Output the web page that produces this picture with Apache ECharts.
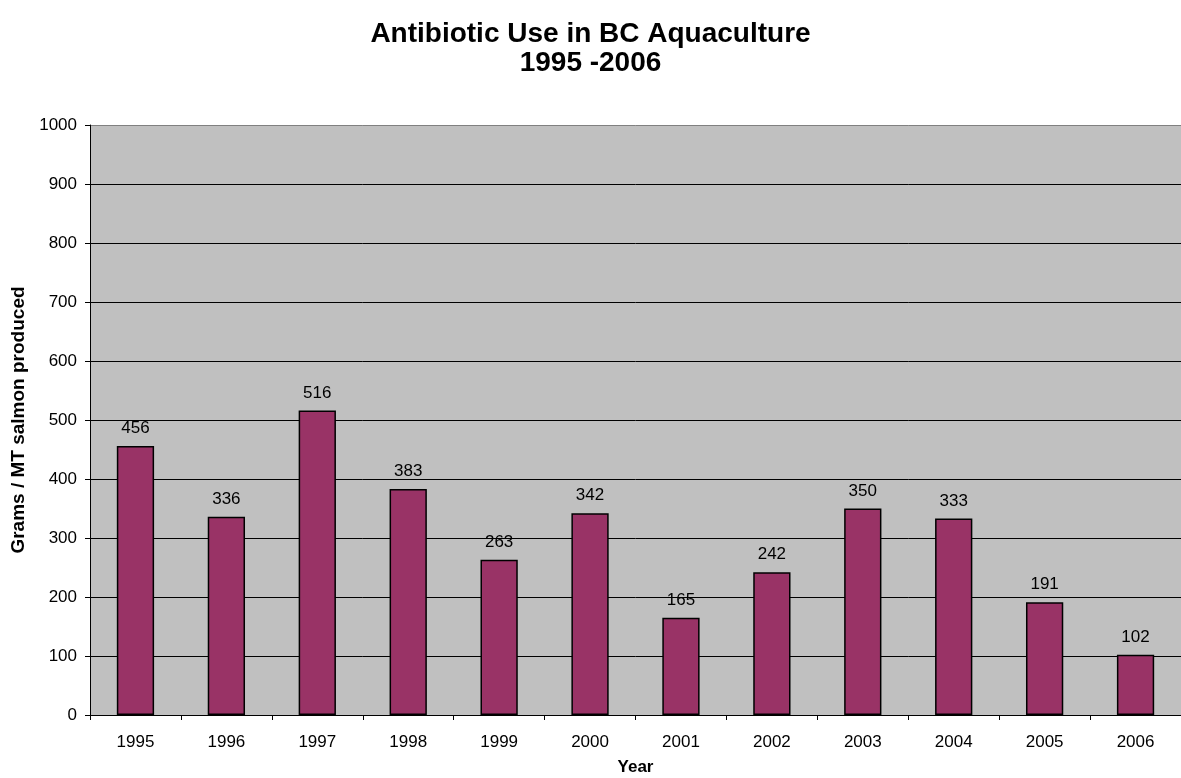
<!DOCTYPE html>
<html><head><meta charset="utf-8">
<script src="https://cdn.jsdelivr.net/npm/echarts@6/dist/echarts.min.js"></script>
<style>html,body{margin:0;padding:0;background:#fff}#c{width:1181px;height:778px}</style>
</head><body><div id="c"></div>
<script>
const years = ['1995','1996','1997','1998','1999','2000','2001','2002','2003','2004','2005','2006'];
const grams = [456,336,516,383,263,342,165,242,350,333,191,102];
const yTicks = [0,100,200,300,400,500,600,700,800,900,1000];

const font = 'Liberation Sans, Arial, sans-serif';
const chart = echarts.init(document.getElementById('c'), null, {renderer:'canvas'});
const splitColors = yTicks.map((t,i)=> i===yTicks.length-1 ? '#808080' : '#000000');
chart.setOption({
  animation:false,
  backgroundColor:'#ffffff',
  title:{
    text:'Antibiotic Use in BC Aquaculture\n1995 -2006',
    left:'center', top:15,
    textStyle:{fontFamily:font,fontSize:28,fontWeight:'bold',color:'#000',lineHeight:29}
  },
  grid:{left:90,right:0,top:125,bottom:63,show:true,backgroundColor:'#C0C0C0',borderWidth:0,
        containLabel:false,outerBoundsMode:'none'},
  xAxis:{
    type:'category', data:years,
    name:'Year', nameLocation:'middle', nameGap:44,
    nameTextStyle:{fontFamily:font,fontSize:17,fontWeight:'bold',color:'#000'},
    axisLine:{lineStyle:{color:'#000',width:1}},
    axisTick:{show:true,alignWithLabel:false,length:5,lineStyle:{color:'#000'}},
    axisLabel:{fontFamily:font,fontSize:17,color:'#000',margin:19}
  },
  yAxis:{
    type:'value', min:0, max:1000, interval:100,
    name:'Grams / MT salmon produced', nameLocation:'middle', nameGap:62,
    nameTextStyle:{fontFamily:font,fontSize:19,fontWeight:'bold',color:'#000'},
    axisLine:{show:true,lineStyle:{color:'#000',width:1}},
    axisTick:{show:true,length:5,lineStyle:{color:'#000'}},
    axisLabel:{fontFamily:font,fontSize:17,color:'#000',margin:13,formatter:v=>String(v)},
    splitLine:{show:true,lineStyle:{color:splitColors,width:1}}
  },
  series:[{
    type:'bar', data:grams, barWidth:'41%',
    itemStyle:{color:'#993366',borderColor:'#000',borderWidth:1.5},
    label:{show:true,position:'top',distance:9,fontFamily:font,fontSize:17,color:'#000'}
  }]
});
</script></body></html>
